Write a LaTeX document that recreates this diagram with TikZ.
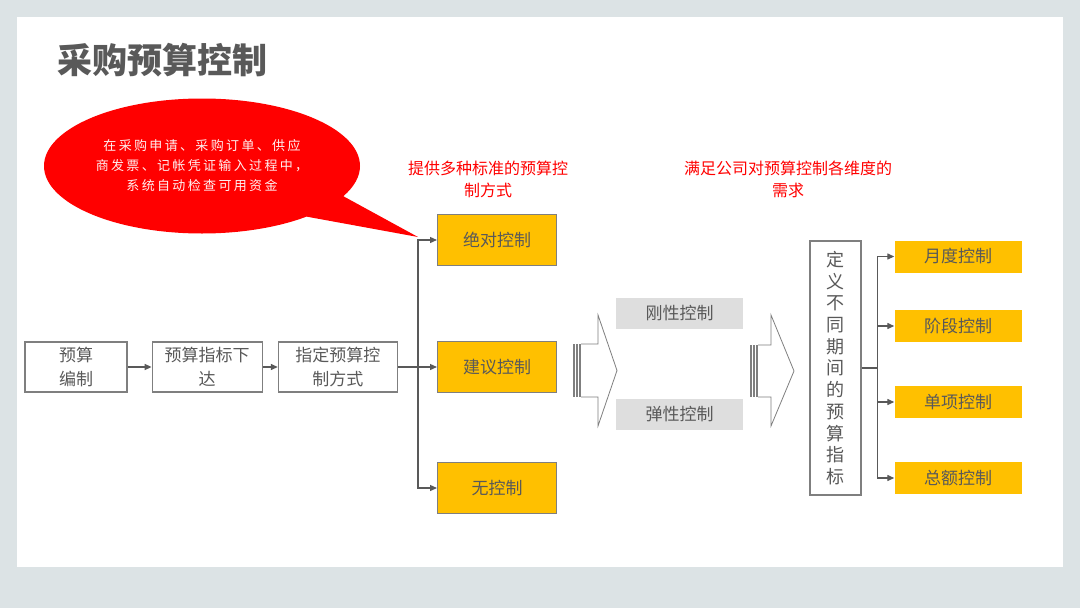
\documentclass[tikz,border=0pt]{standalone}
\usepackage{fontspec}
\setmainfont{Noto Sans CJK SC}
\usetikzlibrary{arrows.meta,positioning,calc,shapes.callouts}
\definecolor{bggray}{HTML}{DCE3E5}
\definecolor{txtgray}{HTML}{595959}
\definecolor{bdgray}{HTML}{7F7F7F}
\definecolor{ambr}{HTML}{FFC000}
\definecolor{ltgray}{HTML}{DEDEDE}
\definecolor{hred}{HTML}{FF0000}
\definecolor{pinkw}{HTML}{FFF0F0}
\tikzset{
  ttl/.style={inner sep=0pt,text=txtgray,
              font=\fontsize{35}{40}\selectfont\bfseries},
  wbox/.style={rectangle,draw=bdgray,fill=white,line width=1.2pt,
               minimum height=50pt,inner sep=2pt,align=center,
               text=txtgray,font=\fontsize{17}{24}\selectfont},
  obox/.style={rectangle,draw=bdgray,fill=ambr,line width=1.2pt,
               minimum width=119pt,minimum height=51pt,
               text=txtgray,font=\fontsize{17}{20}\selectfont},
  ybox/.style={rectangle,fill=ambr,minimum width=127pt,minimum height=32pt,
               text=txtgray,font=\fontsize{17}{20}\selectfont},
  gbox/.style={rectangle,fill=ltgray,minimum width=127pt,minimum height=31pt,
               text=txtgray,font=\fontsize{17}{20}\selectfont},
  vbox/.style={rectangle,draw=bdgray,fill=white,line width=1.2pt,
               minimum width=51pt,minimum height=254pt,align=center,
               inner sep=0pt,text=txtgray,
               font=\fontsize{18}{21.7}\selectfont},
  rlbl/.style={align=center,text=hred,font=\fontsize{16}{22}\selectfont},
  qipao/.style={ellipse callout,fill=hred,minimum width=316pt,
                minimum height=135pt,callout pointer arc=22,
                align=center,text=pinkw,
                font=\fontsize{13}{20}\selectfont\addfontfeatures{LetterSpace=18}},
  arr/.style={-{Triangle[length=7pt,width=6pt]},line width=1.3pt,color=txtgray},
  ln/.style={line width=1.3pt,color=txtgray},
  blkarr/.style={draw=bdgray,line width=0.8pt,fill=white},
  bar/.style={fill=bdgray},
}
\begin{document}
\begin{tikzpicture}[x=1pt,y=-1pt]

  %% ── page ─────────────────────────────────────────────────────────────────
  \fill[bggray] (0,0) rectangle (1080,608);
  \fill[white] (17,17) rectangle (1063,567);
  \useasboundingbox (0,0) rectangle (1080,608);

  \node[ttl,anchor=west] (bt) at (57,60) {采购预算控制};

  %% ── process row ──────────────────────────────────────────────────────────
  \node[wbox,minimum width=102pt] (bz) at (76,367) {预算\\编制};
  \node[wbox,minimum width=110pt,right=24pt of bz] (xd) {预算指标下\\达};
  \node[wbox,minimum width=119pt,right=15pt of xd] (zd) {指定预算控\\制方式};

  %% ── control modes ────────────────────────────────────────────────────────
  \node[obox,right=39pt of zd] (jy) {建议控制};
  \node[obox] (jd) at (jy |- 0,240) {绝对控制};
  \node[obox] (wk) at (jy |- 0,488) {无控制};

  \node[rlbl] (lb1) at (488,179) {提供多种标准的预算控\\制方式};
  \node[rlbl] (lb2) at (788,179) {满足公司对预算控制各维度的\\需求};

  %% ── rigid / flexible ─────────────────────────────────────────────────────
  \node[gbox] (gx) at (679.5,313.5) {刚性控制};
  \node[gbox] (tx) at (679.5,414.5) {弹性控制};

  %% ── period indicators ────────────────────────────────────────────────────
  \node[vbox] (dy) at (835.5,368)
    {定\\义\\不\\同\\期\\间\\的\\预\\算\\指\\标};
  \node[ybox] (yd) at (958,256.5) {月度控制};
  \node[ybox] (jk) at (958,326)   {阶段控制};
  \node[ybox] (dx) at (958,402)   {单项控制};
  \node[ybox] (ze) at (958,478)   {总额控制};

  %% ── block arrows ─────────────────────────────────────────────────────────
  \fill[bar] (573,344) rectangle (574.5,397);
  \fill[bar] (576,344) rectangle (577.5,397);
  \fill[bar] (579,344) rectangle (580.5,397);
  \draw[blkarr] (581,344) -- (598,344) -- (598,315) -- (617,370.5)
    -- (598,426) -- (598,397) -- (581,397);

  \fill[bar] (750,345) rectangle (751.5,397);
  \fill[bar] (753,345) rectangle (754.5,397);
  \fill[bar] (756,345) rectangle (757.5,397);
  \draw[blkarr] (758,345) -- (771,345) -- (771,315) -- (794,371)
    -- (771,426) -- (771,397) -- (758,397);

  %% ── connectors ───────────────────────────────────────────────────────────
  \draw[arr] (bz) -- (xd);
  \draw[arr] (xd) -- (zd);
  \draw[arr] (zd) -- (jy);
  \coordinate (zg1) at ($(zd.east)+(20,0)$);
  \draw[arr] (zg1) |- (jd.west);
  \draw[arr] (zg1) |- (wk.west);

  \coordinate (zg2) at ($(dy.east)+(16,0)$);
  \draw[ln] (dy.east) -- (zg2);
  \draw[arr] (zg2) |- (yd.west);
  \draw[arr] (zg2) |- (jk.west);
  \draw[arr] (zg2) |- (dx.west);
  \draw[arr] (zg2) |- (ze.west);

  %% ── callout ──────────────────────────────────────────────────────────────
  \coordinate (jian) at ($(zg1 |- jd.west)+(0,-3)$);
  \node[qipao,callout absolute pointer={(jian)}] (qp) at (202,166)
    {在采购申请、采购订单、供应\\商发票、记帐凭证输入过程中，\\系统自动检查可用资金};

\end{tikzpicture}
\end{document}
